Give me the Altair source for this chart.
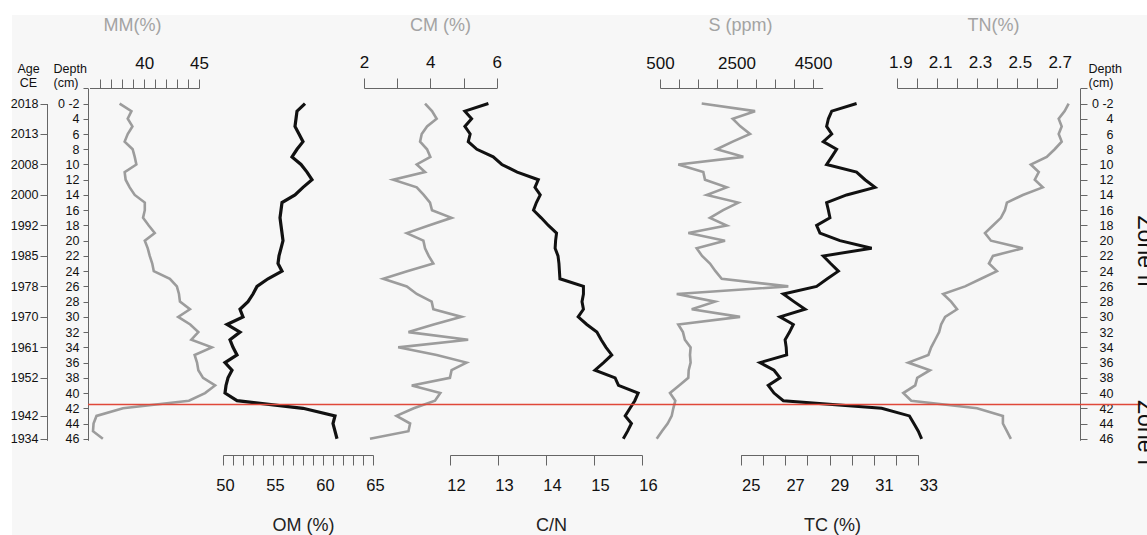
import altair as alt
import pandas as pd

# ---------------- data ----------------
depth = list(range(2, 47))  # cm

mm = [37.75, 38.83, 38.49, 38.92, 38.49, 38.21, 38.94, 39.13, 39.28, 38.21, 38.3, 38.67, 39.13,
      40.05, 40.05, 39.89, 40.41, 40.96, 40.05, 40.32, 40.5, 40.73, 40.87, 42.34, 42.98, 43.17,
      43.26, 44.17, 43.1, 44.2, 44.94, 44.3, 46.17, 44.6, 44.82, 44.94, 45.37, 46.47, 45.55,
      44.08, 38.06, 35.64, 35.37, 35.32, 36.22]
om = [58.2, 57.4, 57.3, 57.2, 57.6, 58.0, 57.4, 56.9, 57.8, 58.4, 58.9, 58.0, 57.2, 55.9, 55.8,
      55.7, 55.8, 55.9, 56.0, 55.8, 55.6, 55.5, 55.9, 54.5, 53.4, 53.0, 52.5, 51.7, 52.0, 50.4,
      51.7, 50.7, 51.0, 51.4, 50.2, 50.9, 50.5, 50.3, 50.2, 51.4, 58.0, 61.2, 61.0, 61.2, 61.4]
cm = [3.84, 4.05, 4.19, 3.9, 3.74, 3.69, 3.9, 4.0, 3.59, 3.84, 2.88, 3.59, 3.8, 3.99, 4.05, 4.64,
      3.95, 3.29, 3.79, 3.84, 3.95, 4.09, 3.3, 2.58, 3.29, 3.59, 4.04, 4.09, 4.94, 4.1, 3.34,
      5.14, 3.03, 4.19, 5.09, 4.64, 4.59, 3.44, 4.3, 4.14, 3.5, 2.98, 3.39, 3.34, 2.18]
cn = [12.80, 12.31, 12.45, 12.31, 12.42, 12.38, 12.56, 12.90, 13.08, 13.4, 13.84, 13.77, 13.88,
      13.8, 13.74, 13.9, 14.05, 14.22, 14.2, 14.19, 14.25, 14.27, 14.28, 14.29, 14.78, 14.78,
      14.75, 14.78, 14.67, 14.85, 15.06, 15.15, 15.25, 15.37, 15.2, 15.02, 15.44, 15.51, 15.92,
      15.85, 15.75, 15.65, 15.78, 15.7, 15.61]
s_ppm = [1590, 2984, 2400, 2600, 2853, 2400, 1982, 2678, 978, 1632, 1676, 2243, 1721, 2547, 2150,
         1807, 2243, 1240, 2199, 1459, 1600, 1807, 1950, 2113, 3854, 937, 1938, 1329, 2592, 978,
         1100, 1150, 1300, 1284, 1300, 1250, 1240, 1000, 761, 900, 848, 806, 700, 550, 414]
tc = [30.22, 29.10, 28.95, 28.87, 29.10, 28.72, 29.32, 29.1, 28.87, 30.22, 30.6, 31.05, 29.77,
      28.87, 28.95, 29.02, 28.42, 28.57, 29.47, 30.90, 28.72, 29.05, 29.40, 28.9, 28.42, 26.92,
      27.4, 27.90, 26.77, 27.37, 27.2, 27.00, 27.05, 27.07, 25.87, 26.5, 26.77, 26.24, 26.5,
      26.92, 31.35, 32.6, 32.8, 33.0, 33.15]
tn = [2.76, 2.74, 2.71, 2.725, 2.71, 2.725, 2.69, 2.65, 2.57, 2.61, 2.59, 2.63, 2.53, 2.45, 2.44,
      2.42, 2.38, 2.34, 2.37, 2.53, 2.38, 2.36, 2.40, 2.32, 2.24, 2.13, 2.17, 2.20, 2.14, 2.12,
      2.11, 2.09, 2.07, 2.056, 1.955, 2.064, 2.0, 1.99, 1.93, 1.97, 2.30, 2.43, 2.43, 2.45, 2.47]

# axis ticks / labels
mm_ticks = list(range(36, 46));             mm_labels = [40, 45]
om_ticks = list(range(50, 66));             om_labels = [50, 55, 60, 65]
cm_ticks = [2, 3, 4, 5, 6];                 cm_labels = [2, 4, 6]
cn_ticks = [12, 12.5, 13, 13.5, 14, 14.5, 15, 15.5, 16]; cn_labels = [12, 13, 14, 15, 16]
s_ticks = list(range(500, 5000, 500));      s_labels = [500, 2500, 4500]
tc_ticks = list(range(25, 34));             tc_labels = [25, 27, 29, 31, 33]
tn_ticks = [1.9, 2.0, 2.1, 2.2, 2.3, 2.4, 2.5, 2.6, 2.7]; tn_labels = [1.9, 2.1, 2.3, 2.5, 2.7]

depth_ticks = list(range(0, 47, 2))
age_depths = [2, 6, 10, 14, 18, 22, 26, 30, 34, 38, 43, 46]
age_labels = ["2018", "2013", "2008", "2000", "1992", "1985", "1978", "1970", "1961", "1952",
              "1942", "1934"]
zone_boundary = [41.5]
zone_names = ["Zone II", "Zone I"]
zone_depths = [21.4, 45.2]

df = pd.DataFrame({"depth": depth, "MM": mm, "OM": om, "CM": cm, "CN": cn,
                   "S": s_ppm, "TC": tc, "TN": tn})

# ---------------- layout helpers ----------------
OX, OY = 12, 15          # page offset of the plot group
W, H = 1147 - OX, 535 - OY
FONT = "Liberation Sans"
GRAY = "#9c9c9c"
BLACK = "#111111"
AXC = "#666666"


def gx(px):
    return px - OX


def gy(py):
    return py - OY


Y_SCALE = alt.Scale(domain=[0, 46.2], range=[gy(88.3), gy(440.3)], nice=False, zero=False)


def in_list_expr(vals, fmt=None):
    cond = " || ".join(f"abs(datum.value - {v}) < 1e-6" for v in vals)
    lab = f"format(datum.value, '{fmt}')" if fmt else "datum.label"
    return f"({cond}) ? {lab} : ''"


def x_axis(orient, ticks, labels, title, title_cx, title_color, label_dx=0, tick_size=9,
           fmt=None, label_size=17):
    if orient == "top":
        offset = -gy(88)
        title_y = 25 - 88
        pad = 7
    else:
        offset = gy(455) - H
        title_y = 525 - 455
        pad = 12
    return alt.Axis(orient=orient, offset=offset, values=ticks,
                    labelExpr=in_list_expr(labels, fmt), format=fmt or "d",
                    tickSize=tick_size, labelPadding=pad, labelFontSize=label_size,
                    labelOffset=label_dx, labelAngle=0, labelFlush=False, labelOverlap=False,
                    labelColor="#111", labelFont=FONT, grid=False,
                    domainColor=AXC, tickColor=AXC, domainWidth=1, tickWidth=1,
                    title=title, titleX=gx(title_cx), titleY=title_y, titleAlign="center",
                    titleBaseline="middle", titleAngle=0, titleColor=title_color,
                    titleFontSize=18, titleFontWeight="normal", titleFont=FONT)


def profile(col, dom, rng, axis, color, width):
    return alt.Chart(df).mark_line(color=color, strokeWidth=width, strokeJoin="miter").encode(
        x=alt.X(f"{col}:Q",
                scale=alt.Scale(domain=dom, range=[gx(rng[0]), gx(rng[1])], nice=False, zero=False),
                axis=axis),
        y=alt.Y("depth:Q", scale=Y_SCALE, axis=None),
        order=alt.Order("depth:Q"),
    )


layers = [
    profile("MM", [35, 45], [89.5, 199],
            x_axis("top", mm_ticks, mm_labels, "MM(%)", 132, "#a3a3a3"), GRAY, 2.6),
    profile("OM", [50, 65], [223, 373],
            x_axis("bottom", om_ticks, om_labels, "OM (%)", 303, "#222", label_dx=2,
                   tick_size=10, label_size=16.5), BLACK, 3.2),
    profile("CM", [2, 6], [364, 496.7],
            x_axis("top", cm_ticks, cm_labels, "CM (%)", 440, "#a3a3a3", tick_size=10), GRAY, 2.6),
    profile("CN", [12, 16], [450, 642],
            x_axis("bottom", cn_ticks, cn_labels, "C/N", 551, "#222", label_dx=6,
                   tick_size=10, label_size=16.5), BLACK, 3),
    profile("S", [500, 4750], [660, 822.6],
            x_axis("top", s_ticks, s_labels, "S (ppm)", 740, "#a3a3a3"), GRAY, 2.6),
    profile("TC", [25, 33], [740.7, 918.3],
            x_axis("bottom", tc_ticks, tc_labels, "TC (%)", 832, "#222", label_dx=10,
                   tick_size=10, label_size=16.5), BLACK, 3),
    profile("TN", [1.9, 2.7], [897.3, 1056.7],
            x_axis("top", tn_ticks, tn_labels, "TN(%)", 993, "#a3a3a3", label_dx=3,
                   tick_size=10, fmt=".1f"), GRAY, 2.6),
]

# depth axis (left)
depth_expr = "datum.value == 0 ? '' : datum.value == 2 ? '0 -2' : datum.label"
ydf = pd.DataFrame({"depth": depth_ticks})
common_y = dict(grid=False, domainColor=AXC, tickColor=AXC, labelColor="#111", labelFont=FONT,
                labelFontSize=12.5, titleFont=FONT, titleFontSize=12.5, titleFontWeight="normal",
                titleColor="#111", titleAngle=0, titleBaseline="top", titleLineHeight=14,
                labelFlush=False, labelOverlap=False, values=depth_ticks)

left_depth = alt.Chart(ydf).mark_point(opacity=0).encode(
    y=alt.Y("depth:Q", scale=Y_SCALE,
            axis=alt.Axis(orient="left", offset=-gx(88), tickSize=5, labelPadding=4,
                          labelExpr=depth_expr, title=["Depth", "(cm)"],
                          titleX=53 - 88, titleY=gy(62.5), titleAlign="left", **common_y)),
    x=alt.value(0),
)
right_depth = alt.Chart(ydf).mark_point(opacity=0).encode(
    y=alt.Y("depth:Q", scale=Y_SCALE,
            axis=alt.Axis(orient="right", offset=gx(1080) - W, tickSize=7, labelPadding=26,
                          labelAlign="right", labelExpr=depth_expr, title=["Depth", "(cm)"],
                          titleX=1088 - 1080, titleY=gy(62.5), titleAlign="left", **common_y)),
    x=alt.value(0),
)

age_expr = "".join(f"datum.value == {d} ? '{a}' : " for d, a in zip(age_depths, age_labels)) + "''"
age_common = {k: v for k, v in common_y.items() if k != "values"}
age_axis_layer = alt.Chart(pd.DataFrame({"depth": age_depths})).mark_point(opacity=0).encode(
    y=alt.Y("depth:Q",
            scale=alt.Scale(domain=[2, 46.2], range=[gy(103.5), gy(440.3)], nice=False, zero=False),
            axis=alt.Axis(orient="left", offset=-gx(47), tickSize=7, labelPadding=2,
                          values=age_depths, labelExpr=age_expr, title=["Age", "CE"],
                          titleX=28 - 47, titleY=gy(62.5), titleAlign="center", **age_common)),
    x=alt.value(0),
)

# zone boundary
boundary = alt.Chart(pd.DataFrame({"depth": zone_boundary})).mark_rule(
    color="#e0483a", strokeWidth=1.3).encode(
    y=alt.Y("depth:Q", scale=Y_SCALE, axis=None),
    x=alt.value(gx(88)), x2=alt.value(gx(1141)),
)

# zone labels: rotated, running off the right edge as in the reference
zones = alt.Chart(pd.DataFrame({"depth": zone_depths, "name": zone_names})).mark_text(
    angle=90, align="center", baseline="alphabetic", font=FONT, fontSize=23, color="#111").encode(
    y=alt.Y("depth:Q", scale=Y_SCALE, axis=None),
    x=alt.value(gx(1138)),
    text="name:N",
)

chart = alt.layer(*layers, left_depth, right_depth, age_axis_layer, boundary, zones).resolve_scale(
    x="independent", y="independent"
).properties(
    width=W, height=H,
    padding={"left": OX, "top": OY, "right": 0, "bottom": 0},
    autosize=alt.AutoSizeParams(type="none"),
    background="white",
).configure_view(fill="#f7f7f7", stroke=None)

chart.save("out.html", embed_options={"renderer": "svg", "actions": False})
